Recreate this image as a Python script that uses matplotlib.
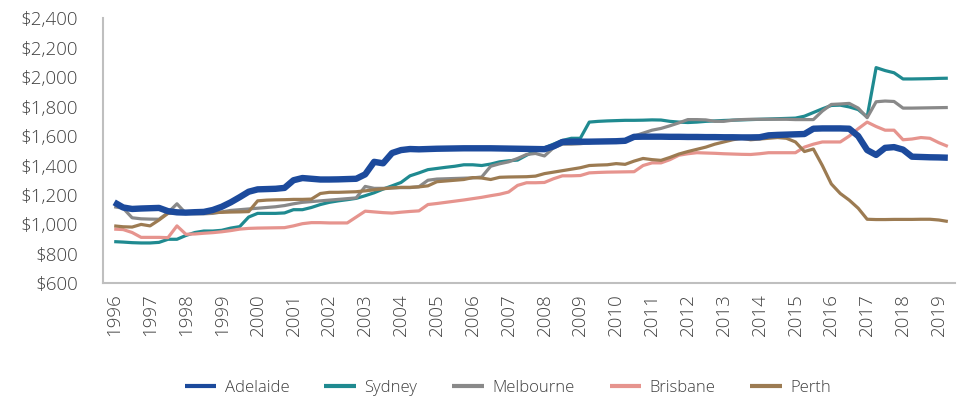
import matplotlib
matplotlib.use("Agg")
import matplotlib.pyplot as plt
from matplotlib.ticker import FuncFormatter
import numpy as np

plt.rcParams['font.family'] = ['Open Sans', 'DejaVu Sans']
plt.rcParams['font.weight'] = 300

# Quarterly series, 1996 Q1 .. 2019 Q2
years = list(range(1996, 2020))

adelaide = [
    1150, 1115, 1105, 1108,
    1110, 1112, 1090, 1082,
    1080, 1083, 1085, 1098,
    1120, 1150, 1185, 1222,
    1238, 1240, 1242, 1248,
    1300, 1315, 1310, 1305,
    1305, 1306, 1308, 1310,
    1340, 1425, 1415, 1485,
    1505, 1512, 1510, 1512,
    1514, 1515, 1516, 1517,
    1517, 1517, 1517, 1516,
    1515, 1514, 1513, 1512,
    1511, 1530, 1560, 1562,
    1562, 1562, 1563, 1564,
    1565, 1568, 1595, 1596,
    1596, 1596, 1595, 1595,
    1594, 1594, 1593, 1593,
    1592, 1592, 1591, 1591,
    1592, 1605, 1608, 1610,
    1612, 1614, 1650, 1652,
    1652, 1652, 1650, 1600,
    1505, 1472, 1520, 1525,
    1508, 1460, 1458, 1456,
    1455, 1453,
]

sydney = [
    883, 880, 876, 874,
    874, 878, 899, 899,
    925, 945, 955, 955,
    960, 975, 985, 1050,
    1075, 1075, 1075, 1078,
    1100, 1100, 1115, 1135,
    1150, 1160, 1168, 1177,
    1195, 1215, 1240, 1262,
    1285, 1330, 1350, 1372,
    1380, 1388, 1395, 1405,
    1405, 1400, 1410, 1425,
    1432, 1437, 1470, 1500,
    1520, 1545, 1570, 1585,
    1585, 1695, 1700, 1703,
    1705, 1707, 1707, 1708,
    1710, 1709, 1700, 1695,
    1692, 1695, 1700, 1703,
    1706, 1708, 1710, 1712,
    1714, 1716, 1718, 1720,
    1722, 1735, 1760, 1785,
    1808, 1810, 1798, 1780,
    1730, 2065, 2045, 2030,
    1988, 1988, 1989, 1990,
    1992, 1993,
]

melbourne = [
    1120, 1110, 1045, 1038,
    1036, 1035, 1080, 1140,
    1075, 1072, 1072, 1075,
    1085, 1095, 1100, 1105,
    1110, 1115, 1120, 1128,
    1140, 1150, 1155, 1160,
    1165, 1170, 1175, 1180,
    1258, 1245, 1245, 1248,
    1250, 1250, 1256, 1300,
    1308, 1310, 1312, 1314,
    1316, 1322, 1395, 1412,
    1425, 1448, 1475, 1482,
    1465, 1520, 1545, 1545,
    1548, 1555, 1560, 1562,
    1565, 1568, 1600, 1620,
    1640, 1652, 1670, 1690,
    1712, 1712, 1710, 1700,
    1700, 1708, 1712, 1714,
    1714, 1714, 1714, 1714,
    1712, 1712, 1712, 1770,
    1815, 1818, 1822, 1790,
    1725, 1833, 1838, 1835,
    1790, 1790, 1791, 1792,
    1793, 1794,
]

brisbane = [
    968, 965, 945, 912,
    912, 912, 910, 990,
    933, 935, 940, 944,
    950, 958, 968, 973,
    975, 976, 977, 978,
    990, 1005, 1012, 1012,
    1010, 1010, 1010, 1050,
    1090, 1085, 1080, 1077,
    1083, 1088, 1092, 1135,
    1142, 1150, 1158, 1166,
    1175, 1184, 1195, 1205,
    1220, 1265, 1283, 1283,
    1285, 1310, 1330, 1330,
    1332, 1350, 1353, 1355,
    1356, 1357, 1358, 1400,
    1418, 1418, 1440, 1470,
    1480, 1487, 1485, 1483,
    1480, 1478, 1476, 1475,
    1480, 1487, 1487, 1487,
    1487, 1525, 1545, 1560,
    1560, 1560, 1600, 1650,
    1695, 1665, 1640, 1640,
    1575, 1580, 1590, 1585,
    1555, 1530,
]

perth = [
    990, 984, 982, 1000,
    990, 1030, 1075, 1080,
    1080, 1080, 1080, 1080,
    1082, 1084, 1085, 1087,
    1160, 1165, 1167, 1168,
    1170, 1170, 1172, 1210,
    1218, 1218, 1220, 1222,
    1228, 1235, 1242, 1248,
    1252, 1252, 1255, 1262,
    1290, 1295, 1300, 1305,
    1318, 1315, 1305, 1320,
    1322, 1323, 1324, 1328,
    1345, 1355, 1365, 1375,
    1385, 1400, 1403, 1405,
    1413, 1408, 1430, 1448,
    1440, 1435, 1455, 1478,
    1495, 1510, 1525, 1545,
    1560, 1575, 1585, 1575,
    1580, 1585, 1590, 1585,
    1560, 1495, 1512, 1400,
    1275, 1210, 1165, 1110,
    1035, 1033, 1033, 1034,
    1034, 1034, 1035, 1035,
    1030, 1020,
]

series = [
    ("Adelaide", adelaide, "#1c4a9c", 4.6, 5),
    ("Sydney", sydney, "#1f8a90", 2.3, 2),
    ("Melbourne", melbourne, "#898989", 2.3, 3),
    ("Brisbane", brisbane, "#e6948e", 2.3, 3),
    ("Perth", perth, "#9c7b52", 2.3, 4),
]

fig = plt.figure(figsize=(9.64, 4.0), dpi=100)
ax = fig.add_axes([103 / 964, 1 - 283.3 / 400, (955 - 103) / 964, (283.3 - 18.3) / 400])

x = np.arange(len(adelaide))
handles = []
for name, vals, color, lw, z in series:
    (h,) = ax.plot(x, vals, color=color, lw=lw, label=name, zorder=z,
                   solid_joinstyle="round", solid_capstyle="butt")
    handles.append(h)

ax.set_ylim(600, 2400)
ax.set_yticks(range(600, 2401, 200))
ax.yaxis.set_major_formatter(FuncFormatter(lambda v, p: f"${int(v):,}"))
ax.set_xlim(-1.25, len(adelaide) - 1 + 0.8)
ax.set_xticks(np.arange(0, len(adelaide), 4))
ax.set_xticklabels([str(y) for y in years], rotation=90)

for side in ("top", "right"):
    ax.spines[side].set_visible(False)
for side in ("left", "bottom"):
    ax.spines[side].set_color("#bfbfbf")
    ax.spines[side].set_linewidth(1.5)

ax.tick_params(axis="both", length=0, labelcolor="#404040")
ax.tick_params(axis="y", labelsize=13.5, pad=18)
ax.tick_params(axis="x", labelsize=13.5, pad=7)

leg = fig.legend(handles=handles, loc="center", bbox_to_anchor=(508 / 964, 1 - 388 / 400),
                 ncol=5, frameon=False, fontsize=12, handlelength=1.9,
                 columnspacing=2.1, handletextpad=0.5)
for t in leg.get_texts():
    t.set_color("#404040")
for lh in leg.get_lines():
    lh.set_linewidth(3)

fig.savefig("out.png", dpi=100)
